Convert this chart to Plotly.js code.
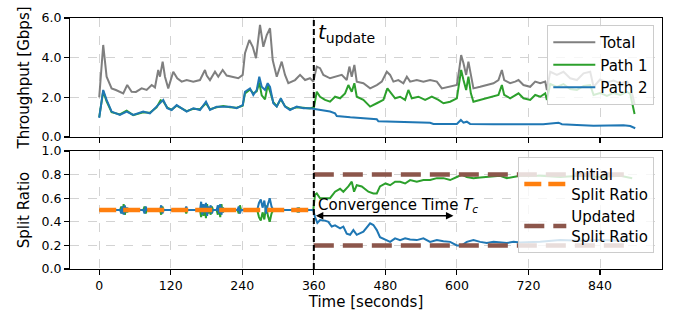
<!DOCTYPE html>
<html>
<head>
<meta charset="utf-8">
<script src="https://cdn.plot.ly/plotly-3.0.1.min.js"></script>
<style>html,body{margin:0;padding:0;background:#fff;}#chart{width:677px;height:322px;}</style>
</head>
<body>
<div id="chart"></div>
<script>
// ---- Throughput data (Gbps) ----
const totalT = [0, 6.7, 12.4, 20.8, 28, 40.3, 47, 54.4, 61.6, 71.2, 79.6, 88, 93.5, 99, 101.9, 106.4, 110.3, 115.8, 124.2, 130.9, 138.3, 146.7, 157.8, 169, 177.4, 180.3, 185.8, 194.2, 199.7, 207.1, 213.8, 224.9, 233.3, 240.7, 244.5, 251.8, 257.5, 263, 269.7, 275.3, 281, 286.5, 291, 297.8, 306.1, 311.7, 317.2, 328.5, 336.9, 345.3, 353.6, 359.2, 364.9, 370.4, 376, 387.2, 398.5, 406.8, 415.2, 419.6, 423.6, 428, 432, 443.1, 454.4, 465.6, 474, 482.4, 487.9, 493.5, 501.8, 510.2, 516, 521.5, 532.7, 543.8, 555, 566.3, 574.7, 588.6, 599.9, 604.2, 607.1, 611, 615.5, 619.3, 623.4, 627.7, 639, 650.2, 661.3, 669.7, 675.4, 679.3, 689.3, 697.7, 703.3, 711.6, 722.9, 731.3, 739.7, 748.1, 750.9, 756.5, 767.7, 778.8, 790, 801.3, 812.4, 823.6, 829.2, 840.1, 851.6, 862.7, 874, 885.2, 890.7, 898];
const totalV = [2.0, 4.64, 3.04, 2.45, 2.37, 2.2, 2.62, 2.28, 2.27, 2.45, 2.37, 2.62, 2.5, 3.38, 3.04, 3.8, 3.04, 2.45, 3.29, 2.96, 2.79, 2.87, 2.79, 2.87, 3.38, 3.1, 2.87, 3.29, 3.04, 3.38, 3.1, 3.04, 2.96, 3.13, 4.22, 4.89, 4.55, 3.97, 5.65, 4.55, 5.14, 5.48, 3.88, 3.04, 3.8, 3.13, 2.71, 2.87, 3.13, 2.87, 2.96, 2.79, 3.55, 3.47, 3.13, 2.96, 3.04, 3.13, 2.87, 3.55, 3.04, 3.63, 2.79, 2.71, 2.45, 2.62, 2.79, 3.29, 3.13, 2.79, 2.87, 2.71, 3.04, 2.79, 2.87, 2.79, 2.87, 2.79, 2.45, 2.53, 2.62, 3.47, 4.13, 3.72, 3.13, 3.8, 3.04, 2.45, 2.53, 2.62, 2.71, 2.87, 3.38, 2.87, 2.71, 2.79, 2.87, 2.62, 2.53, 2.79, 2.71, 2.79, 2.37, 3.29, 3.13, 3.29, 2.96, 2.87, 3.21, 3.29, 2.53, 2.9, 2.75, 2.85, 2.7, 2.8, 2.6, 1.65];

const path1T = [0, 6.7, 12.4, 20.8, 34.7, 46, 57, 73.8, 85, 96.3, 103, 107.4, 114.1, 121.5, 129.9, 138.3, 146.7, 157.8, 169, 179.1, 185.8, 197, 208.1, 219.4, 230.6, 240.7, 244.5, 252.9, 258.5, 264.2, 268.5, 272.6, 278.1, 282.6, 286.5, 292, 297.8, 304.5, 311.7, 320.1, 331.3, 342.4, 353.6, 360.2,
  364.9, 370.4, 378.8, 387.2, 395.6, 404, 412.4, 417.9, 423.6, 428, 432, 443.1, 454.4, 465.6, 476.7, 483.4, 489.1, 496.3, 504.7, 513.1, 518.6, 524.3, 535.4, 546.7, 557.9, 569, 577.4, 588.6, 599.9, 604.2, 607.1, 611, 615.5, 619.3, 623.4, 627.7, 639, 650.2, 661.3, 669.7, 675.4, 679.3, 689.3, 697.7, 703.3, 711.6, 722.9, 731.3, 739.7, 748.1, 750.9, 756.5, 767.7, 778.8, 790, 801.3, 812.4, 823.6, 829.2, 840.1, 851.6, 862.7, 874, 885.2, 890.7, 898];
const path1V = [1.0, 2.3, 1.8, 1.25, 1.14, 1.33, 1.1, 1.25, 1.22, 1.5, 1.85, 1.8, 1.48, 1.38, 1.58, 1.43, 1.3, 1.42, 1.4, 1.7, 1.4, 1.5, 1.56, 1.5, 1.48, 1.58, 2.2, 2.4, 2.2, 2.3, 2.75, 2.1, 1.9, 2.6, 2.3, 1.75, 1.55, 1.9, 1.55, 1.4, 1.5, 1.47, 1.44, 1.5,
  2.28, 2.03, 1.87, 1.78, 2.03, 1.95, 2.2, 2.62, 2.28, 2.71, 2.03, 1.87, 1.53, 1.7, 1.87, 2.45, 2.2, 1.95, 2.03, 1.87, 2.37, 1.95, 2.03, 1.87, 2.03, 1.87, 1.7, 1.78, 1.95, 2.71, 3.38, 2.87, 2.37, 3.04, 2.2, 1.78, 1.87, 1.95, 2.03, 2.12, 2.62, 2.12, 1.95, 2.12, 2.2, 1.95, 1.87, 2.12, 2.03, 2.2, 1.87, 2.67, 2.52, 2.67, 2.42, 2.37, 2.57, 2.62, 2.12, 2.22, 2.07, 2.22, 2.12, 2.27, 2.17, 1.16];

const path2T = [0, 6.7, 12.4, 20.8, 34.7, 46, 57, 73.8, 85, 96.3, 103, 107.4, 114.1, 121.5, 129.9, 138.3, 146.7, 157.8, 169, 179.1, 185.8, 197, 208.1, 219.4, 230.6, 240.7, 244.5, 252.9, 258.5, 264.2, 268.5, 272.6, 278.1, 282.6, 286.5, 292, 297.8, 304.5, 311.7, 320.1, 331.3, 342.4, 353.6, 360.2, 370.4, 387.2, 395.6, 398.5, 421.2, 454.4, 465.6, 468.3, 510.2, 555, 560.6, 599.9, 606.6, 611, 616.6, 622.2, 661.3, 717.4, 744.7, 770.4, 776.1, 801.3, 829.2, 879.5, 890.7, 899.1];
const path2V = [0.96, 2.37, 1.87, 1.28, 1.11, 1.28, 1.11, 1.28, 1.19, 1.53, 1.78, 1.87, 1.45, 1.36, 1.61, 1.45, 1.28, 1.45, 1.36, 1.78, 1.36, 1.53, 1.53, 1.53, 1.45, 1.61, 2.28, 2.45, 2.12, 2.37, 3.04, 2.53, 2.37, 2.71, 2.53, 1.7, 1.53, 1.95, 1.53, 1.36, 1.53, 1.45, 1.45, 1.42, 1.36, 1.28, 1.19, 1.06, 0.99, 0.94, 0.89, 0.79, 0.74, 0.72, 0.66, 0.66, 0.86, 0.72, 0.77, 0.66, 0.64, 0.64, 0.64, 0.72, 0.64, 0.61, 0.57, 0.59, 0.55, 0.44];

// ---- Split ratio data ----
const splitPreT = [0, 35, 37, 39, 41, 43, 45, 47, 49, 74, 76, 78, 80, 102, 104, 106, 108, 144, 146, 148, 169, 171, 173, 175, 177, 179, 181, 183, 185, 187, 189, 191, 197, 199, 201, 203, 205, 207, 209, 211, 232, 234, 236, 238, 265, 268, 271, 274, 277, 280, 283, 286, 289, 292, 331, 333, 335, 337, 359];
const split1Pre = [0.5, 0.5, 0.53, 0.47, 0.55, 0.46, 0.52, 0.48, 0.5, 0.5, 0.53, 0.47, 0.5, 0.5, 0.46, 0.53, 0.5, 0.5, 0.47, 0.5, 0.5, 0.44, 0.55, 0.45, 0.53, 0.43, 0.55, 0.47, 0.52, 0.46, 0.53, 0.5, 0.5, 0.46, 0.54, 0.44, 0.55, 0.48, 0.51, 0.5, 0.5, 0.47, 0.54, 0.5, 0.5, 0.44, 0.41, 0.48, 0.42, 0.54, 0.45, 0.4, 0.47, 0.5, 0.5, 0.48, 0.52, 0.5, 0.5];
const split2Pre = [0.5, 0.5, 0.47, 0.53, 0.46, 0.54, 0.48, 0.52, 0.5, 0.5, 0.47, 0.53, 0.5, 0.5, 0.54, 0.47, 0.5, 0.5, 0.53, 0.5, 0.5, 0.57, 0.46, 0.55, 0.48, 0.56, 0.45, 0.53, 0.49, 0.54, 0.47, 0.5, 0.5, 0.54, 0.47, 0.55, 0.46, 0.52, 0.49, 0.5, 0.5, 0.53, 0.47, 0.5, 0.5, 0.56, 0.59, 0.52, 0.58, 0.47, 0.55, 0.6, 0.53, 0.5, 0.5, 0.52, 0.48, 0.5, 0.5];
const split1PostT = [362, 364.9, 370.4, 378.8, 387.2, 395.6, 404, 409.5, 417.9, 423.6, 427.5, 432, 440.4, 451.5, 459.9, 465.6, 471, 480.2, 488, 496.3, 504.7, 513.1, 521.5, 532.7, 543.8, 555, 566.3, 577.4, 588.6, 599.9, 608.3, 616.6, 627.7, 639, 650.2, 661.3, 672.5, 683.8, 694.9, 706, 739.7, 773.3, 806.9, 840.1, 874, 894];
const split1Post = [0.63, 0.64, 0.6, 0.6, 0.6, 0.655, 0.68, 0.655, 0.70, 0.74, 0.655, 0.71, 0.70, 0.655, 0.64, 0.64, 0.70, 0.725, 0.71, 0.74, 0.74, 0.725, 0.754, 0.74, 0.754, 0.754, 0.77, 0.77, 0.754, 0.78, 0.80, 0.78, 0.77, 0.775, 0.78, 0.78, 0.79, 0.77, 0.78, 0.79, 0.79, 0.78, 0.79, 0.78, 0.79, 0.77];
const split2PostT = [362, 365.9, 370.4, 378.8, 384.4, 390, 395.6, 404, 409.5, 415.2, 420.8, 426.3, 432, 443.1, 454.4, 459.9, 465.6, 471, 480.2, 488, 496.3, 504.7, 513.1, 521.5, 532.7, 543.8, 555, 566.3, 577.4, 588.6, 599.9, 608.3, 616.6, 627.7, 639, 650.2, 661.3, 672.5, 683.8, 694.9, 706, 739.7, 773.3, 806.9, 840.1, 874, 894];
const split2Post = [0.44, 0.39, 0.415, 0.41, 0.40, 0.36, 0.37, 0.345, 0.36, 0.30, 0.29, 0.33, 0.29, 0.316, 0.387, 0.373, 0.33, 0.27, 0.245, 0.23, 0.26, 0.245, 0.26, 0.25, 0.245, 0.26, 0.23, 0.245, 0.235, 0.23, 0.20, 0.20, 0.23, 0.245, 0.23, 0.22, 0.23, 0.225, 0.22, 0.23, 0.225, 0.23, 0.245, 0.24, 0.245, 0.24, 0.25];

const initialT = [0, 360];
const initialRatio = [0.5, 0.5];
const updatedT = [360, 893];
const updatedHigh = 0.8;
const updatedLow = 0.2;

const tUpdate = 360;
const tConverged = 600;
const xTicks = [0, 120, 240, 360, 480, 600, 720, 840];

const C = {gray:'#7f7f7f', green:'#2ca02c', blue:'#1f77b4', orange:'#ff7f0e', brown:'#8c564b'};
const FONT = 'DejaVu Sans, Liberation Sans, sans-serif';

const traces = [
  {x: totalT, y: totalV, name: 'Total', type:'scatter', mode:'lines', line:{color:C.gray, width:2}, xaxis:'x', yaxis:'y', legend:'legend'},
  {x: path1T, y: path1V, name: 'Path 1', type:'scatter', mode:'lines', line:{color:C.green, width:2}, xaxis:'x', yaxis:'y', legend:'legend'},
  {x: path2T, y: path2V, name: 'Path 2', type:'scatter', mode:'lines', line:{color:C.blue, width:2}, xaxis:'x', yaxis:'y', legend:'legend'},
  {x: splitPreT.concat(split1PostT), y: split1Pre.concat(split1Post), showlegend:false, type:'scatter', mode:'lines', line:{color:C.green, width:2}, xaxis:'x2', yaxis:'y2'},
  {x: splitPreT.concat(split2PostT), y: split2Pre.concat(split2Post), showlegend:false, type:'scatter', mode:'lines', line:{color:C.blue, width:2}, xaxis:'x2', yaxis:'y2'},
  {x: initialT, y: initialRatio, name:'Initial<br>Split Ratio', type:'scatter', mode:'lines', line:{color:C.orange, width:4.5, dash:'17px,7px'}, xaxis:'x2', yaxis:'y2', legend:'legend2'},
  {x: updatedT.concat([null], updatedT), y: [updatedHigh, updatedHigh, null, updatedLow, updatedLow], name:'Updated<br>Split Ratio', type:'scatter', mode:'lines', line:{color:C.brown, width:4.5, dash:'20px,9px'}, xaxis:'x2', yaxis:'y2', legend:'legend2'}
];

const axisCommon = {
  showline:true, mirror:true, linecolor:'#000', linewidth:1.1,
  ticks:'outside', ticklen:5, tickwidth:1.1, tickcolor:'#000',
  showgrid:true, gridcolor:'#d3d3d3', griddash:'dash', gridwidth:1,
  zeroline:false, tickfont:{family:FONT, size:12.5, color:'#000'}
};

const layout = {
  width:677, height:322,
  margin:{l:70, r:15, t:18, b:53},
  paper_bgcolor:'#fff', plot_bgcolor:'#fff',
  font:{family:FONT, color:'#000'},
  xaxis: Object.assign({}, axisCommon, {domain:[0,1], anchor:'y', range:[-49, 944], tickvals:xTicks, showticklabels:false, matches:'x2'}),
  yaxis: Object.assign({}, axisCommon, {domain:[0.526,1], anchor:'x', range:[0,6], tickvals:[0,2,4,6], tickformat:'.1f',
    title:{text:'Throughput [Gbps]', font:{family:FONT, size:15}, standoff:8}}),
  xaxis2: Object.assign({}, axisCommon, {domain:[0,1], anchor:'y2', range:[-49, 944], tickvals:xTicks,
    title:{text:'Time [seconds]', font:{family:FONT, size:15}, standoff:4}}),
  yaxis2: Object.assign({}, axisCommon, {domain:[0,0.47], anchor:'x2', range:[0,1], tickvals:[0,0.2,0.4,0.6,0.8,1.0], tickformat:'.1f',
    title:{text:'Split Ratio', font:{family:FONT, size:15}, standoff:8}}),
  legend:{x:0.987, xanchor:'right', y:0.972, yanchor:'top', bgcolor:'rgba(255,255,255,0.8)', bordercolor:'#cccccc', borderwidth:1,
    font:{family:FONT, size:15}, tracegroupgap:0, itemwidth:42},
  legend2:{x:0.987, xanchor:'right', y:0.446, yanchor:'top', bgcolor:'rgba(255,255,255,0.8)', bordercolor:'#cccccc', borderwidth:1,
    font:{family:FONT, size:15}, tracegroupgap:0, itemwidth:42},
  shapes:[
    {type:'line', xref:'x', yref:'paper', x0:tUpdate, x1:tUpdate, y0:0, y1:1, line:{color:'#000', width:2, dash:'6px,3px'}}
  ],
  annotations:[
    {x:tUpdate, y:5.25, xref:'x', yref:'y', xanchor:'left', yanchor:'middle', xshift:2, showarrow:false,
      text:'<i>t</i><sub>update</sub>', font:{family:FONT, size:20, color:'#000'}},
    {x:tUpdate, y:0.535, xref:'x2', yref:'y2', xanchor:'left', yanchor:'middle', xshift:2, showarrow:false,
      text:'Convergence Time <i>T</i><sub><i>c</i></sub>', font:{family:FONT, size:15, color:'#000'}},
    {x:tUpdate, y:0.452, ax:tConverged, ay:0.452, xref:'x2', yref:'y2', axref:'x2', ayref:'y2', text:'', showarrow:true,
      arrowhead:2, startarrowhead:2, arrowside:'end+start', arrowsize:1, startarrowsize:1, arrowwidth:1.5, arrowcolor:'#000', standoff:2, startstandoff:2}
  ]
};

Plotly.newPlot('chart', traces, layout, {staticPlot:true, displayModeBar:false});
</script>
</body>
</html>
